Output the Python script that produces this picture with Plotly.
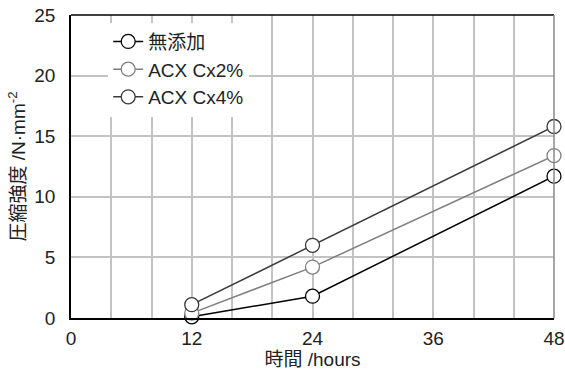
import plotly.graph_objects as go

hours = [12, 24, 48]
series_names = ["無添加", "ACX Cx2%", "ACX Cx4%"]
strength_none = [0.1, 1.8, 11.7]
strength_cx2 = [0.4, 4.2, 13.4]
strength_cx4 = [1.1, 6.0, 15.8]
line_colors = ["#000000", "#7f7f7f", "#3a3a3a"]

FONT = "Liberation Sans, Arial, Noto Sans CJK JP, sans-serif"

fig = go.Figure()
for name, vals, col in zip(series_names, [strength_none, strength_cx2, strength_cx4], line_colors):
    fig.add_trace(go.Scatter(
        x=hours, y=vals, name=name, mode="lines+markers",
        line=dict(color=col, width=1.5),
        marker=dict(symbol="circle", size=14, color="white",
                    line=dict(color=col, width=1.3)),
        cliponaxis=False,
    ))

grid = "#c3c3c3"
fig.update_layout(
    width=565, height=371,
    margin=dict(l=71, r=11, t=15, b=53, autoexpand=False),
    paper_bgcolor="white", plot_bgcolor="white",
    font=dict(family=FONT, size=19, color="#222"),
    showlegend=True,
    legend=dict(x=0.077, y=0.975, xanchor="left", yanchor="top",
                bgcolor="white", borderwidth=0, font=dict(size=19),
                tracegroupgap=0, itemwidth=30),
    xaxis=dict(range=[0, 48], tickvals=[0, 12, 24, 36, 48],
               showgrid=True, gridcolor=grid, gridwidth=1.5,
               minor=dict(dtick=4, showgrid=True, gridcolor=grid, gridwidth=1.5),
               showline=True, linecolor="black", linewidth=1.5,
               ticks="", zeroline=False, automargin=False,
               ticklabelstandoff=2,
               title=dict(text="時間 /hours", font=dict(size=19), standoff=0),
               tickfont=dict(size=19)),
    yaxis=dict(range=[0, 25], dtick=5,
               showgrid=True, gridcolor=grid, gridwidth=1.5,
               showline=True, linecolor="black", linewidth=1.5,
               ticks="", zeroline=False, automargin=False,
               ticklabelstandoff=10,
               title=dict(text="圧縮強度 /N·mm<sup>-2</sup>", font=dict(size=19), standoff=4),
               tickfont=dict(size=19)),
    shapes=[dict(type="line", xref="paper", yref="paper", x0=0, x1=1, y0=1, y1=1,
                 line=dict(color="black", width=1.5)),
            dict(type="line", xref="paper", yref="paper", x0=1, x1=1, y0=0, y1=1,
                 line=dict(color="#888888", width=1.5))],
)

fig.write_html("out.html")
